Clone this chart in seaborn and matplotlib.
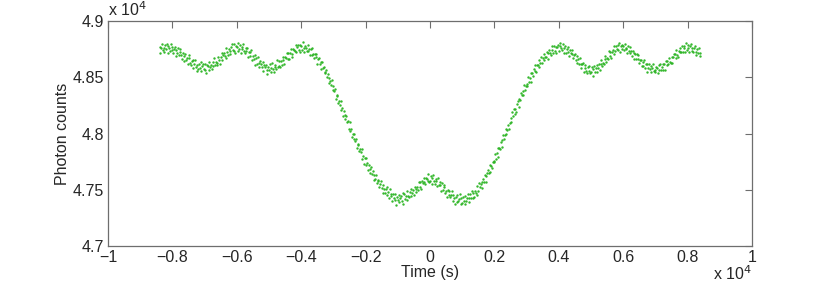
import numpy as np
import pandas as pd
import matplotlib
matplotlib.use("Agg")
import matplotlib.pyplot as plt
from matplotlib.ticker import FuncFormatter
import seaborn as sns

# sampling cadence of the light curve: one reading every 25 s
time_start, time_stop, time_step = -8400, 8400, 25

# photon counts, first half (t < 0)
counts_first_half = [
    48769, 48718, 48760, 48795, 48740, 48763, 48724, 48789,
    48750, 48795, 48718, 48775, 48760, 48731, 48799, 48742,
    48766, 48713, 48748, 48766, 48687, 48743, 48713, 48760,
    48696, 48723, 48752, 48697, 48664, 48712, 48689, 48641,
    48706, 48654, 48669, 48621, 48675, 48696, 48631, 48611,
    48646, 48584, 48649, 48615, 48650, 48591, 48553, 48612,
    48572, 48616, 48586, 48636, 48556, 48598, 48615, 48573,
    48622, 48567, 48542, 48605, 48596, 48564, 48639, 48595,
    48612, 48570, 48634, 48602, 48670, 48606, 48635, 48607,
    48624, 48677, 48651, 48620, 48684, 48713, 48655, 48698,
    48720, 48689, 48671, 48758, 48724, 48698, 48749, 48731,
    48708, 48766, 48800, 48746, 48736, 48792, 48718, 48776,
    48772, 48736, 48801, 48749, 48788, 48714, 48773, 48755,
    48794, 48736, 48713, 48759, 48730, 48758, 48684, 48728,
    48688, 48721, 48740, 48657, 48686, 48659, 48701, 48610,
    48667, 48620, 48680, 48627, 48588, 48644, 48620, 48590,
    48634, 48554, 48610, 48587, 48613, 48563, 48527, 48588,
    48562, 48615, 48549, 48586, 48624, 48571, 48548, 48609,
    48594, 48571, 48650, 48589, 48604, 48643, 48589, 48646,
    48606, 48655, 48680, 48617, 48684, 48667, 48720, 48665,
    48716, 48665, 48713, 48748, 48706, 48676, 48747, 48739,
    48732, 48788, 48726, 48766, 48790, 48742, 48722, 48790,
    48782, 48738, 48811, 48759, 48728, 48781, 48762, 48737,
    48786, 48735, 48749, 48696, 48754, 48701, 48759, 48704,
    48674, 48709, 48680, 48709, 48620, 48664, 48671, 48617,
    48634, 48576, 48638, 48578, 48594, 48537, 48549, 48566,
    48500, 48532, 48453, 48491, 48466, 48431, 48473, 48386,
    48424, 48374, 48399, 48307, 48342, 48335, 48272, 48289,
    48252, 48285, 48207, 48224, 48156, 48201, 48163, 48126,
    48156, 48103, 48108, 48043, 48102, 48022, 48037, 47973,
    48000, 47948, 47998, 47932, 47950, 47871, 47901, 47908,
    47844, 47865, 47832, 47861, 47776, 47798, 47730, 47782,
    47782, 47719, 47734, 47675, 47722, 47688, 47648, 47706,
    47642, 47667, 47588, 47633, 47592, 47632, 47564, 47582,
    47586, 47525, 47552, 47581, 47514, 47472, 47540, 47504,
    47470, 47503, 47522, 47457, 47476, 47431, 47507, 47444,
    47464, 47402, 47464, 47430, 47466, 47412, 47368, 47436,
    47412, 47454, 47388, 47428, 47446, 47400, 47468, 47376,
    47458, 47420, 47447, 47409, 47490, 47447, 47432, 47479,
    47446, 47508, 47470, 47498, 47452, 47521, 47505, 47480,
    47526, 47499, 47570, 47523, 47572, 47507, 47575, 47558,
    47604, 47565, 47547, 47606, 47592, 47636, 47574, 47566,
]

# photon counts, second half (t >= 0)
counts_second_half = [
    47578, 47622, 47553, 47603, 47628, 47578, 47552, 47598,
    47580, 47536, 47605, 47539, 47570, 47539, 47491, 47556,
    47494, 47525, 47539, 47468, 47492, 47435, 47498, 47457,
    47492, 47435, 47457, 47486, 47404, 47450, 47424, 47374,
    47434, 47394, 47452, 47401, 47415, 47460, 47374, 47429,
    47380, 47433, 47404, 47369, 47442, 47401, 47426, 47461,
    47430, 47395, 47462, 47429, 47486, 47431, 47474, 47439,
    47492, 47473, 47453, 47530, 47488, 47564, 47524, 47550,
    47514, 47568, 47595, 47565, 47630, 47565, 47622, 47653,
    47672, 47647, 47717, 47658, 47710, 47696, 47751, 47743,
    47760, 47817, 47771, 47828, 47788, 47869, 47868, 47865,
    47922, 47878, 47945, 47985, 47954, 47986, 48043, 47997,
    48028, 48076, 48041, 48097, 48138, 48106, 48189, 48153,
    48216, 48173, 48220, 48193, 48262, 48289, 48233, 48306,
    48294, 48360, 48339, 48377, 48344, 48433, 48391, 48418,
    48444, 48420, 48499, 48457, 48490, 48461, 48539, 48538,
    48512, 48570, 48553, 48605, 48548, 48609, 48609, 48594,
    48650, 48623, 48684, 48623, 48670, 48652, 48711, 48681,
    48676, 48726, 48662, 48720, 48738, 48715, 48694, 48777,
    48742, 48716, 48780, 48734, 48770, 48717, 48769, 48786,
    48732, 48777, 48805, 48756, 48742, 48794, 48714, 48762,
    48776, 48718, 48755, 48771, 48726, 48690, 48741, 48717,
    48704, 48742, 48670, 48700, 48704, 48654, 48623, 48685,
    48662, 48616, 48673, 48615, 48580, 48615, 48624, 48543,
    48586, 48610, 48557, 48535, 48588, 48557, 48603, 48538,
    48546, 48588, 48513, 48573, 48600, 48551, 48579, 48550,
    48612, 48581, 48615, 48564, 48616, 48654, 48601, 48631,
    48618, 48660, 48688, 48636, 48674, 48666, 48730, 48688,
    48728, 48675, 48724, 48743, 48706, 48778, 48731, 48777,
    48750, 48789, 48740, 48807, 48728, 48777, 48789, 48752,
    48782, 48738, 48800, 48752, 48764, 48712, 48777, 48729,
    48772, 48720, 48731, 48689, 48736, 48717, 48659, 48710,
    48662, 48704, 48658, 48700, 48624, 48651, 48657, 48596,
    48634, 48600, 48652, 48580, 48616, 48548, 48620, 48582,
    48620, 48570, 48548, 48598, 48578, 48618, 48553, 48567,
    48546, 48591, 48582, 48535, 48608, 48567, 48621, 48566,
    48592, 48563, 48621, 48614, 48568, 48644, 48610, 48642,
    48614, 48671, 48640, 48623, 48680, 48626, 48683, 48707,
    48708, 48673, 48744, 48699, 48684, 48736, 48756, 48728,
    48728, 48782, 48722, 48760, 48780, 48722, 48806, 48744,
    48790, 48756, 48723, 48779, 48796, 48737, 48758, 48723,
    48758, 48777, 48722, 48699, 48752, 48718, 48758, 48688,
    48720,
]

x_ticks = [-1, -0.8, -0.6, -0.4, -0.2, 0, 0.2, 0.4, 0.6, 0.8, 1]
y_ticks = [4.7, 4.75, 4.8, 4.85, 4.9]

time_s = np.arange(time_start, time_stop + 1, time_step)
counts = np.array(counts_first_half + counts_second_half)
df = pd.DataFrame({"t": time_s / 1e4, "c": counts / 1e4})

sns.set_style("white")
plt.rcParams["font.family"] = ["Liberation Sans", "DejaVu Sans"]
plt.rcParams["font.size"] = 11.5

fig = plt.figure(figsize=(8.3, 2.86), dpi=100)
ax = fig.add_axes([108 / 830, 40 / 286, 644 / 830, 225 / 286])

sns.scatterplot(data=df, x="t", y="c", ax=ax, s=3, color="#2bb423",
                linewidth=0, marker="o", alpha=0.95, legend=False)

# matlab-like axes
axis_col = "#6e6e6e"
ax.set_xlim(-1, 1)
ax.set_ylim(4.7, 4.9)
ax.set_xticks(x_ticks)
ax.set_yticks(y_ticks)
fmt = FuncFormatter(lambda v, p: ("%g" % round(v, 3)).replace("-", "\u2212"))
ax.xaxis.set_major_formatter(fmt)
ax.yaxis.set_major_formatter(fmt)
ax.tick_params(direction="in", length=5, width=0.8, color=axis_col,
               top=True, right=True, labelsize=11.5, pad=3)
for sp in ax.spines.values():
    sp.set_visible(True)
    sp.set_color(axis_col)
    sp.set_linewidth(0.9)

ax.set_xlabel("Time (s)", labelpad=0)
ax.set_ylabel("Photon counts", labelpad=2)

# exponent labels
ax.text(0.0, 1.01, r"x 10$^4$", transform=ax.transAxes, ha="left", va="bottom",
        fontsize=11.5)
ax.text(1.0, -0.083, r"x 10$^4$", transform=ax.transAxes, ha="right", va="top",
        fontsize=11.5)

fig.savefig("out.png", dpi=100)
